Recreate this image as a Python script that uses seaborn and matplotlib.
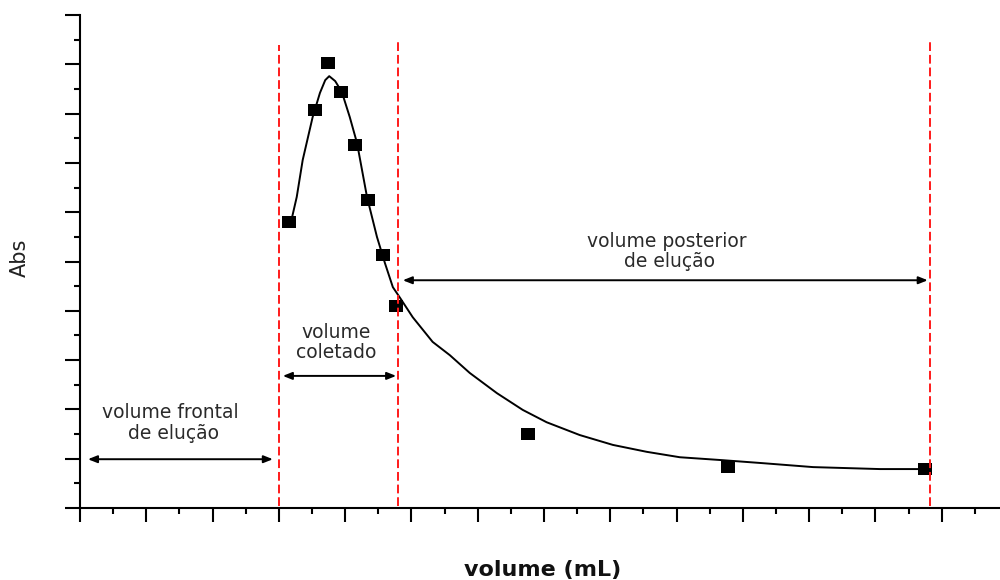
import matplotlib
matplotlib.use("Agg")
import matplotlib.pyplot as plt
from matplotlib.ticker import MultipleLocator, AutoMinorLocator
import seaborn as sns
import pandas as pd

# measured points (squares)
point_x = [3.15, 3.54, 3.74, 3.94, 4.15, 4.34, 4.57, 4.77, 6.76, 9.77, 12.75]
point_y = [5.80, 8.07, 9.03, 8.44, 7.36, 6.25, 5.13, 4.10, 1.50, 0.83, 0.79]

# fitted curve
curve_x = [3.20, 3.27, 3.36, 3.51, 3.62, 3.70, 3.76, 3.85, 3.95, 4.07, 4.18, 4.33,
           4.48, 4.60, 4.72, 4.83, 5.02, 5.32, 5.58, 5.88, 6.29, 6.68, 7.04, 7.54,
           8.04, 8.55, 9.05, 9.70, 10.30, 11.06, 12.07, 12.71]
curve_y = [5.90, 6.31, 7.06, 7.93, 8.42, 8.68, 8.76, 8.66, 8.44, 7.93, 7.40, 6.31,
           5.50, 4.97, 4.48, 4.26, 3.87, 3.37, 3.10, 2.74, 2.33, 1.99, 1.74, 1.48,
           1.28, 1.14, 1.03, 0.97, 0.91, 0.83, 0.79, 0.79]

# region boundaries (red dashed lines)
boundary_x = [3.0, 4.8, 12.82]
boundary_top = [9.39, 9.49, 9.49]

# region annotations
region_labels = ["volume frontal\n de elução", "volume\ncoletado", "volume posterior\n de elução"]
region_start = [0.12, 3.06, 4.87]
region_end = [2.91, 4.77, 12.79]
region_level = [0.99, 2.68, 4.62]
label_x = [1.36, 3.86, 8.85]
label_y = [1.72, 3.36, 5.20]

sns.set_theme(style="white")
plt.rcParams["font.family"] = ["DejaVu Sans"]

fig = plt.figure(figsize=(10, 5.8), dpi=100)
ax = fig.add_axes([0.08, 0.1241, 0.92, 0.850])

curve_df = pd.DataFrame({"x": curve_x, "y": curve_y})
pts_df = pd.DataFrame({"x": point_x, "y": point_y})

rect_marker = [(-1.2, -1.0), (1.2, -1.0), (1.2, 1.0), (-1.2, 1.0), (-1.2, -1.0)]

sns.lineplot(data=curve_df, x="x", y="y", sort=False, color="black", lw=1.4, ax=ax)
sns.scatterplot(data=pts_df, x="x", y="y", marker=rect_marker, s=110, color="black",
                edgecolor="black", linewidth=0, ax=ax, zorder=4)

for bx, bt in zip(boundary_x, boundary_top):
    ax.plot([bx, bx], [0.05, bt], color="#ff1a1a", lw=1.4, ls=(0, (4.5, 2)), zorder=5)

for lab, x0, x1, yl, tx, ty in zip(region_labels, region_start, region_end,
                                   region_level, label_x, label_y):
    ax.annotate("", xy=(x0, yl), xytext=(x1, yl),
                arrowprops=dict(arrowstyle="<|-|>,head_length=0.45,head_width=0.18",
                                color="black", lw=1.4, shrinkA=0, shrinkB=0))
    ax.text(tx, ty, lab, ha="center", va="center", fontsize=13.5, color="#2a2a2a",
            linespacing=1.1)

ax.set_xlim(0, 13.88)
ax.set_ylim(0, 10)
ax.xaxis.set_major_locator(MultipleLocator(1))
ax.xaxis.set_minor_locator(AutoMinorLocator(2))
ax.yaxis.set_major_locator(MultipleLocator(1))
ax.yaxis.set_minor_locator(AutoMinorLocator(2))
ax.tick_params(axis="both", which="major", direction="out", length=10, width=1.5,
               color="black", labelbottom=False, labelleft=False, bottom=True, left=True)
ax.tick_params(axis="both", which="minor", direction="out", length=4.5, width=1.5,
               color="black", bottom=True, left=True)
ax.tick_params(axis="y", which="major", length=11)
ax.set_xlabel("")
ax.set_ylabel("")
for side in ["top", "right"]:
    ax.spines[side].set_visible(False)
for side in ["left", "bottom"]:
    ax.spines[side].set_color("black")
    ax.spines[side].set_linewidth(1.5)

fig.text(0.02, 0.555, "Abs", rotation=90, ha="center", va="center", fontsize=15,
         color="#222222")
fig.text(0.543, 0.018, "volume (mL)", ha="center", va="center", fontsize=16,
         fontweight="bold", color="#111111")

fig.savefig("out.png", dpi=100)
